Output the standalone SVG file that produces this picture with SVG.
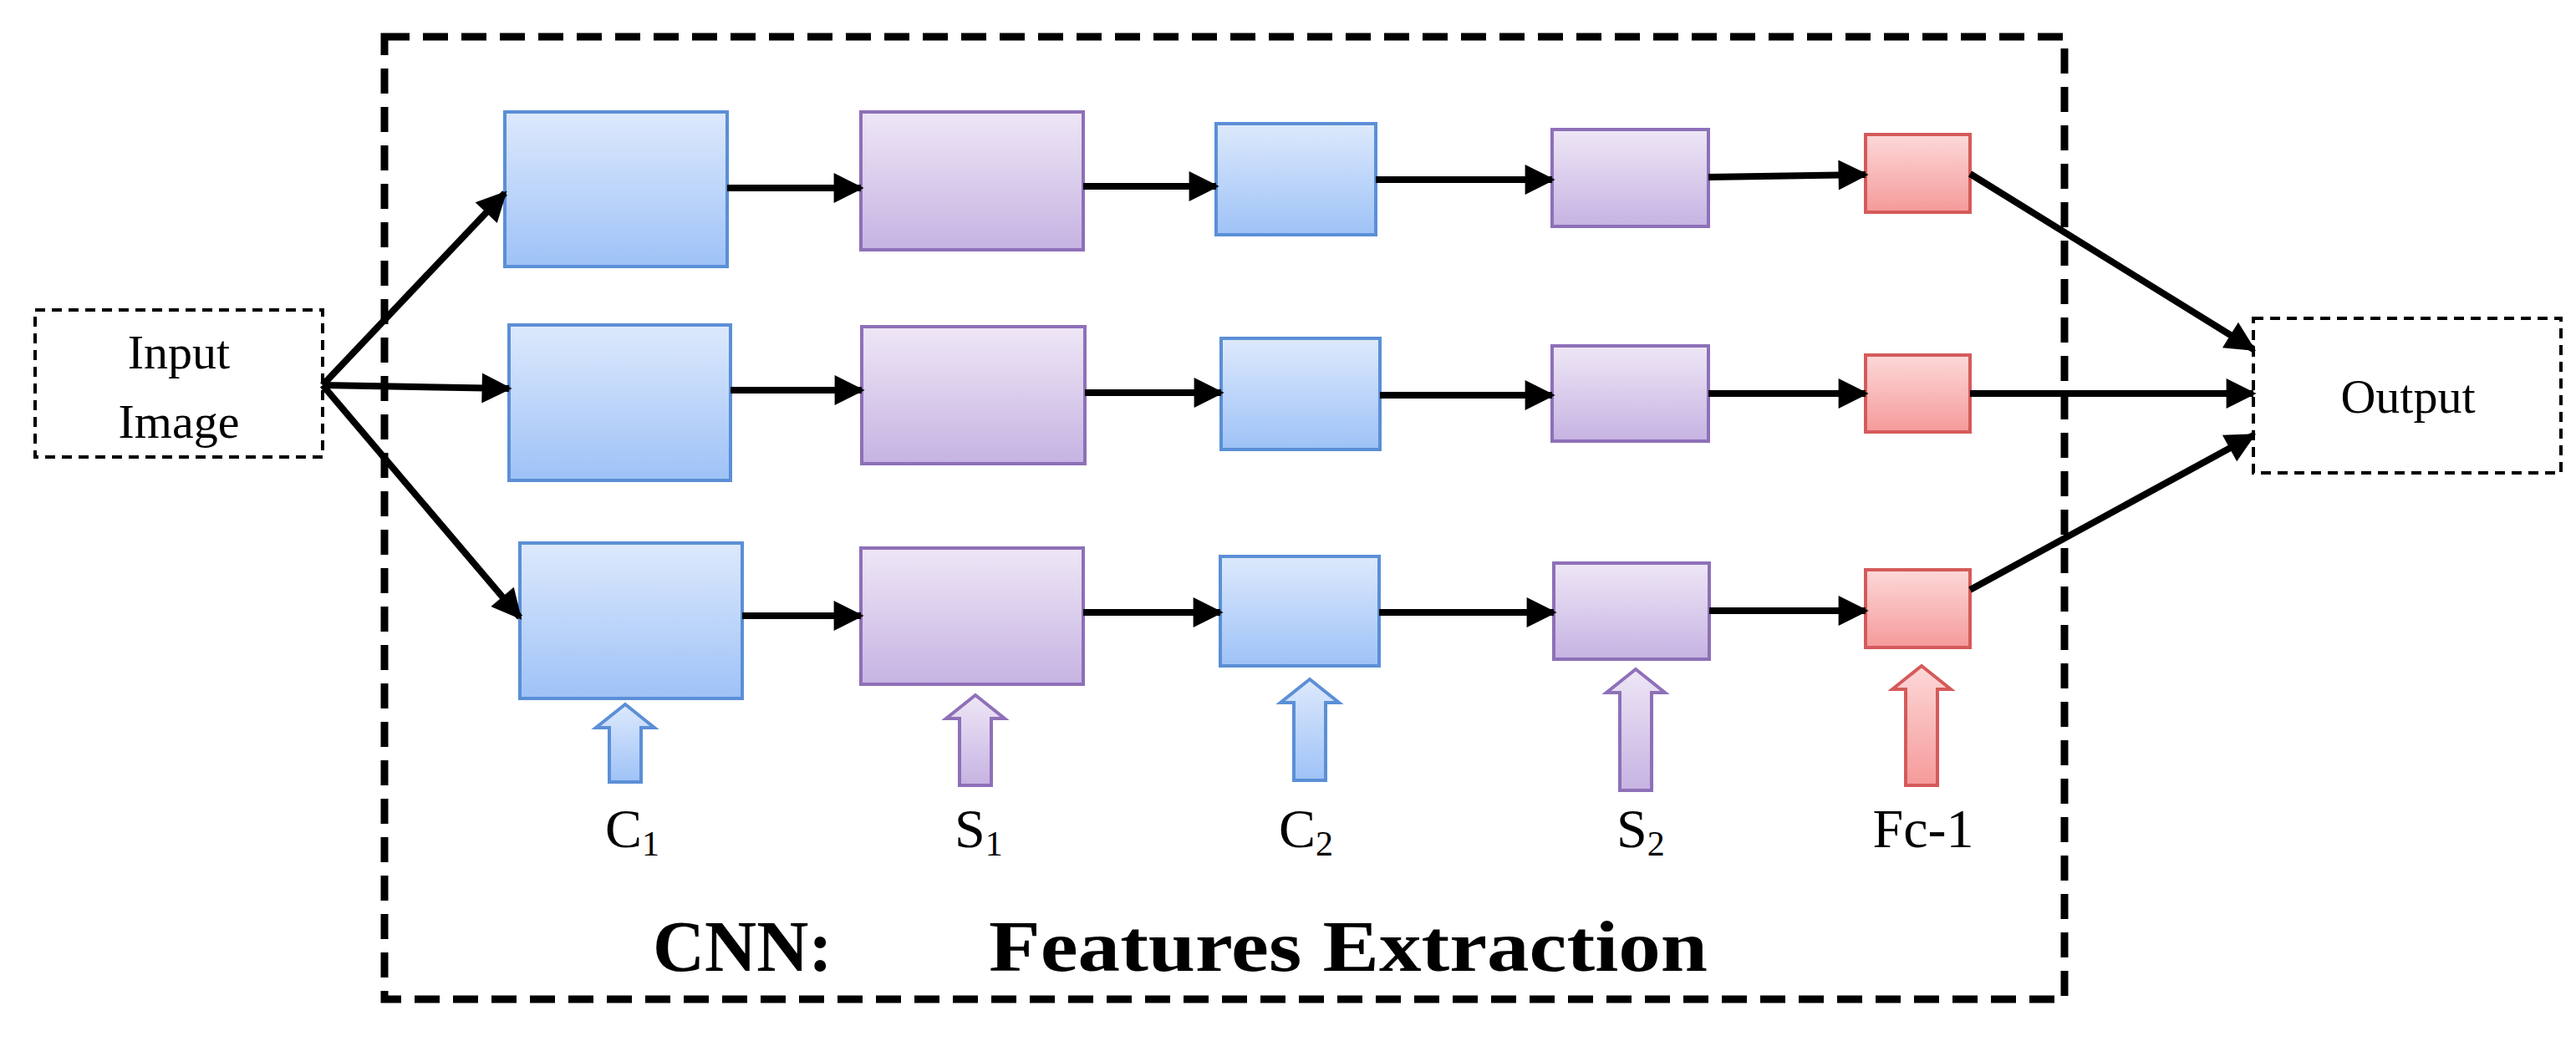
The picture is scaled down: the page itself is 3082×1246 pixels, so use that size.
<svg xmlns="http://www.w3.org/2000/svg" width="3082" height="1246" viewBox="0 0 3082 1246">
<defs>
<linearGradient id="gb" x1="0" y1="0" x2="0" y2="1"><stop offset="0" stop-color="#dde9fc"/><stop offset="1" stop-color="#9ec2f7"/></linearGradient>
<linearGradient id="gp" x1="0" y1="0" x2="0" y2="1"><stop offset="0" stop-color="#eee6f6"/><stop offset="1" stop-color="#c6b3e2"/></linearGradient>
<linearGradient id="gr" x1="0" y1="0" x2="0" y2="1"><stop offset="0" stop-color="#fdd8d8"/><stop offset="1" stop-color="#f59a9a"/></linearGradient>
<marker id="ah" viewBox="0 0 10 10" refX="9" refY="5" markerWidth="5" markerHeight="4.5" orient="auto" markerUnits="strokeWidth"><path d="M0,0 L10,5 L0,10 z" fill="#000"/></marker>
<style>
.b{fill:url(#gb);stroke:#5b8fd6;stroke-width:4}
.p{fill:url(#gp);stroke:#8e70b8;stroke-width:4}
.r{fill:url(#gr);stroke:#d55a5a;stroke-width:4}
.c{stroke:#000;stroke-width:8;fill:none;marker-end:url(#ah)}
.t{font-family:"Liberation Serif",serif;fill:#000}
.d{fill:#fff;stroke:#000;stroke-width:4;stroke-dasharray:12 8}
</style>
</defs>
<rect x="0" y="0" width="3082" height="1246" fill="#fff"/>
<g id="frame"><rect x="460" y="44" width="2010" height="1152" fill="none" stroke="#000" stroke-width="9" stroke-dasharray="30 16"/>
<text class="t" x="781" y="1162" font-size="86" font-weight="bold">CNN:</text>
<text class="t" x="1183" y="1162" font-size="86" font-weight="bold" textLength="860" lengthAdjust="spacingAndGlyphs">Features Extraction</text></g>
<g id="input"><rect class="d" x="42" y="371" width="344" height="176"/><text class="t" x="214" y="441" font-size="58" text-anchor="middle">Input</text><text class="t" x="214" y="524" font-size="58" text-anchor="middle">Image</text></g>
<g id="output"><rect class="d" x="2696" y="381" width="368" height="185"/><text class="t" x="2881" y="494" font-size="58" text-anchor="middle">Output</text></g>
<g id="r1c1"><rect class="b" x="604" y="134" width="266" height="185"/></g>
<g id="r1s1"><rect class="p" x="1030" y="134" width="266" height="165"/></g>
<g id="r1c2"><rect class="b" x="1455" y="148" width="191" height="133"/></g>
<g id="r1s2"><rect class="p" x="1857" y="155" width="187" height="116"/></g>
<g id="r1fc"><rect class="r" x="2232" y="161" width="125" height="93"/></g>
<g id="r2c1"><rect class="b" x="609" y="389" width="265" height="186"/></g>
<g id="r2s1"><rect class="p" x="1031" y="391" width="267" height="164"/></g>
<g id="r2c2"><rect class="b" x="1461" y="405" width="190" height="133"/></g>
<g id="r2s2"><rect class="p" x="1857" y="414" width="187" height="114"/></g>
<g id="r2fc"><rect class="r" x="2232" y="425" width="125" height="92"/></g>
<g id="r3c1"><rect class="b" x="622" y="650" width="266" height="186"/></g>
<g id="r3s1"><rect class="p" x="1030" y="656" width="266" height="163"/></g>
<g id="r3c2"><rect class="b" x="1460" y="666" width="190" height="131"/></g>
<g id="r3s2"><rect class="p" x="1859" y="674" width="186" height="115"/></g>
<g id="r3fc"><rect class="r" x="2232" y="682" width="125" height="93"/></g>
<g id="hollow">
<path class="b" d="M729,936 V871 H713 L748,843 L783,871 H767 V936 z"/>
<path class="p" d="M1148,940 V860 H1132 L1167,832 L1202,860 H1186 V940 z"/>
<path class="b" d="M1548,934 V841 H1532 L1567,813 L1602,841 H1586 V934 z"/>
<path class="p" d="M1938,946 V829 H1922 L1957,801 L1992,829 H1976 V946 z"/>
<path class="r" d="M2280,940 V825 H2264 L2299,797 L2334,825 H2318 V940 z"/>
</g>
<g id="labels" class="t" font-size="66">
<text x="724" y="1014">C<tspan font-size="42" dy="10">1</tspan></text>
<text x="1142" y="1014">S<tspan font-size="42" dy="10">1</tspan></text>
<text x="1530" y="1014">C<tspan font-size="42" dy="10">2</tspan></text>
<text x="1934" y="1014">S<tspan font-size="42" dy="10">2</tspan></text>
<text x="2301" y="1014" text-anchor="middle">Fc-1</text>
</g>
<g id="connectors">
<path class="c" d="M386,461 L604,231"/>
<path class="c" d="M386,461 L609,465"/>
<path class="c" d="M386,461 L622,739"/>
<path class="c" d="M870,225 L1030,225"/>
<path class="c" d="M1296,223 L1455,223"/>
<path class="c" d="M1646,215 L1857,215"/>
<path class="c" d="M2044,212 L2232,209"/>
<path class="c" d="M874,467 L1031,467"/>
<path class="c" d="M1298,470 L1461,470"/>
<path class="c" d="M1651,473 L1857,473"/>
<path class="c" d="M2044,471 L2232,471"/>
<path class="c" d="M888,737 L1030,737"/>
<path class="c" d="M1296,733 L1460,733"/>
<path class="c" d="M1650,733 L1859,733"/>
<path class="c" d="M2045,731 L2232,731"/>
<path class="c" d="M2357,208 L2696,418"/>
<path class="c" d="M2357,471 L2696,471"/>
<path class="c" d="M2357,706 L2696,521"/>
</g>
</svg>
